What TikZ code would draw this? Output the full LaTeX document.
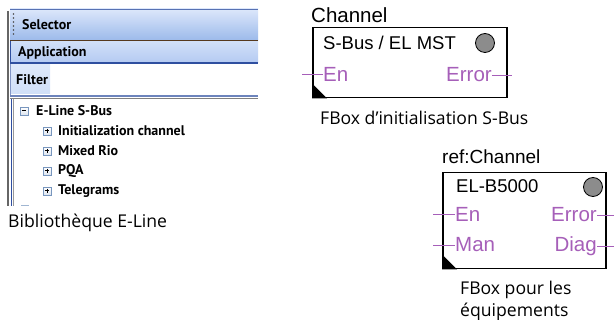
\documentclass[tikz,border=0pt]{standalone}
\usepackage{fontspec}
\setmainfont{Liberation Sans}
\newfontfamily\capfont{Open Sans}
\newfontfamily\uifont{PT Sans}
\definecolor{pinc}{RGB}{166,95,185}
\definecolor{barblue}{RGB}{47,79,160}
\definecolor{bartop}{RGB}{220,231,251}
\definecolor{barbot}{RGB}{155,185,234}
\definecolor{apptop}{RGB}{208,223,248}
\definecolor{appbot}{RGB}{180,202,242}
\definecolor{iconblue}{RGB}{120,150,190}
\definecolor{ledgray}{RGB}{140,140,140}
\begin{document}
\begin{tikzpicture}[x=1pt,y=-1pt,
  lbl/.style={inner sep=0pt, font=\fontsize{18.5}{20}\selectfont},
  hdr/.style={inner sep=0pt, font=\fontsize{20.5}{22}\selectfont},
  pinlbl/.style={inner sep=0pt, text=pinc, font=\fontsize{20.5}{22}\selectfont},
  caption/.style={inner sep=0pt, font=\capfont\fontsize{17.6}{20}\selectfont},
  ui/.style={inner sep=0pt, anchor=west, font=\uifont\bfseries\fontsize{14}{15}\selectfont},
  pinline/.style={draw=pinc, line width=1pt},
  fboxst/.style={draw=black, line width=1.5pt, inner sep=0pt, anchor=north west},
  led/.style={circle, draw=black, line width=0.8pt, fill=ledgray, inner sep=0pt, minimum size=19pt},
  plusbox/.pic={\shade[top color=white, bottom color=iconblue!25] (-4,-4) rectangle (4,4);
                \draw[draw=iconblue, line width=0.8pt] (-4,-4) rectangle (4,4);
                \draw[line width=1pt] (-2.3,0)--(2.3,0) (0,-2.3)--(0,2.3);},
  minusbox/.pic={\shade[top color=white, bottom color=iconblue!25] (-4,-4) rectangle (4,4);
                \draw[draw=iconblue, line width=0.8pt] (-4,-4) rectangle (4,4);
                \draw[line width=1pt] (-2.3,0)--(2.3,0);}
]
\useasboundingbox[fill=white] (0,0) rectangle (614,320);

% ---------- screenshot panel ----------
% selector bar
\shade[top color=bartop, bottom color=barbot] (10,9) rectangle (258,41);
\draw[barblue!80, line width=1pt] (10,9.5) -- (258,9.5);
\draw[black!55!brown, line width=1.2pt] (10,41) -- (258,41);
\foreach \yy in {14,18,22,26,30,34} \fill[black!70] (13.5,\yy) circle (0.9pt);
\node[ui] (sel) at (22,25) {Selector};
% application bar
\shade[top color=apptop, bottom color=appbot] (10,42) rectangle (258,63);
\draw[barblue, line width=1.3pt] (10,63) -- (258,63);
\draw[barblue, line width=1pt] (10.5,41) -- (10.5,63);
\node[ui] (app) at (18,52.5) {Application};
% filter row
\fill[white] (10,64) rectangle (258,95);
\shade[top color=apptop!70!white, bottom color=apptop] (11,65) rectangle (50,94);
\draw[barblue!60, line width=0.8pt] (10.5,64) -- (10.5,95);
\node[ui] (filt) at (16,80) {Filter};
% tree area
\fill[white] (10,99) rectangle (258,206);
\draw[barblue!70!white, line width=1.5pt] (10,95.8) -- (258,95.8);
\draw[black!50, line width=1pt] (10,98.6) -- (258,98.6);
\draw[barblue, line width=1pt] (11.5,99) -- (11.5,206);
\draw[black!40, line width=0.8pt] (13,99) -- (13,206);
\draw[black!60, line width=1.2pt] (8,11) -- (8,206);
\pic at (24,111) {minusbox};
\node[ui] (t0) at (36,111) {E-Line S-Bus};
\foreach \yy/\tt [count=\i] in {131/Initialization channel,151/Mixed Rio,171/PQA,191/Telegrams}{
  \pic at (47,\yy) {plusbox};
  \node[ui] (t\i) at (58,\yy) {\tt};
}
\draw[iconblue!70!white, line width=1.5pt] (21,205.5) -- (29,205.5);
\node[caption, anchor=base west] (lib) at (8,228) {Bibliothèque E-Line};

% ---------- FBox 1 ----------
\node[hdr, anchor=base west] (ch1) at (311,23) {Channel};
\node[fboxst, minimum width=194pt, minimum height=70pt] (box1) at (312,27) {};
\fill (box1.south west) -- ++(0,-15) -- ++(15,15) -- cycle;
\node[lbl, anchor=base west] (t1) at (323,50) {S-Bus / EL MST};
\node[led] (led1) at (485,43) {};
\node[pinlbl, anchor=base west] (en1) at (323,82) {En};
\node[pinlbl, anchor=base east] (er1) at (492,82) {Error};
\coordinate (en1p) at (302,0 |- en1.west);
\coordinate (er1p) at (512,0 |- er1.east);
\draw[pinline] (en1p) -- (en1.west);
\draw[pinline] (er1.east) -- (er1p);
\node[caption, anchor=base west] (c1) at (320,125) {FBox d’initialisation S-Bus};

% ---------- FBox 2 ----------
\node[hdr, anchor=base west, font=\fontsize{19}{21}\selectfont] (ch2) at (442,164) {ref:Channel};
\node[fboxst, minimum width=163pt, minimum height=96pt] (box2) at (442,172) {};
\fill (box2.south west) -- ++(0,-15) -- ++(15,15) -- cycle;
\node[lbl, anchor=base west] (t2) at (456,193) {EL-B5000};
\node[led] (led2) at (593,187) {};
\node[pinlbl, anchor=base west] (en2) at (455,222) {En};
\node[pinlbl, anchor=base west] (man2) at (455,252) {Man};
\node[pinlbl, anchor=base east] (er2) at (597,222) {Error};
\node[pinlbl, anchor=base east] (dg2) at (597,252) {Diag};
\coordinate (en2p) at (433,0 |- en2.west);
\coordinate (man2p) at (433,0 |- man2.west);
\coordinate (er2p) at (614,0 |- er2.east);
\coordinate (dg2p) at (614,0 |- dg2.east);
\draw[pinline] (en2p) -- (en2.west);
\draw[pinline] (man2p) -- (man2.west);
\draw[pinline] (er2.east) -- (er2p);
\draw[pinline] (dg2.east) -- (dg2p);
\node[caption, anchor=base west] (c2a) at (460,295) {FBox pour les};
\node[caption, anchor=base west] (c2b) at (460,317) {équipements};
\end{tikzpicture}
\end{document}
